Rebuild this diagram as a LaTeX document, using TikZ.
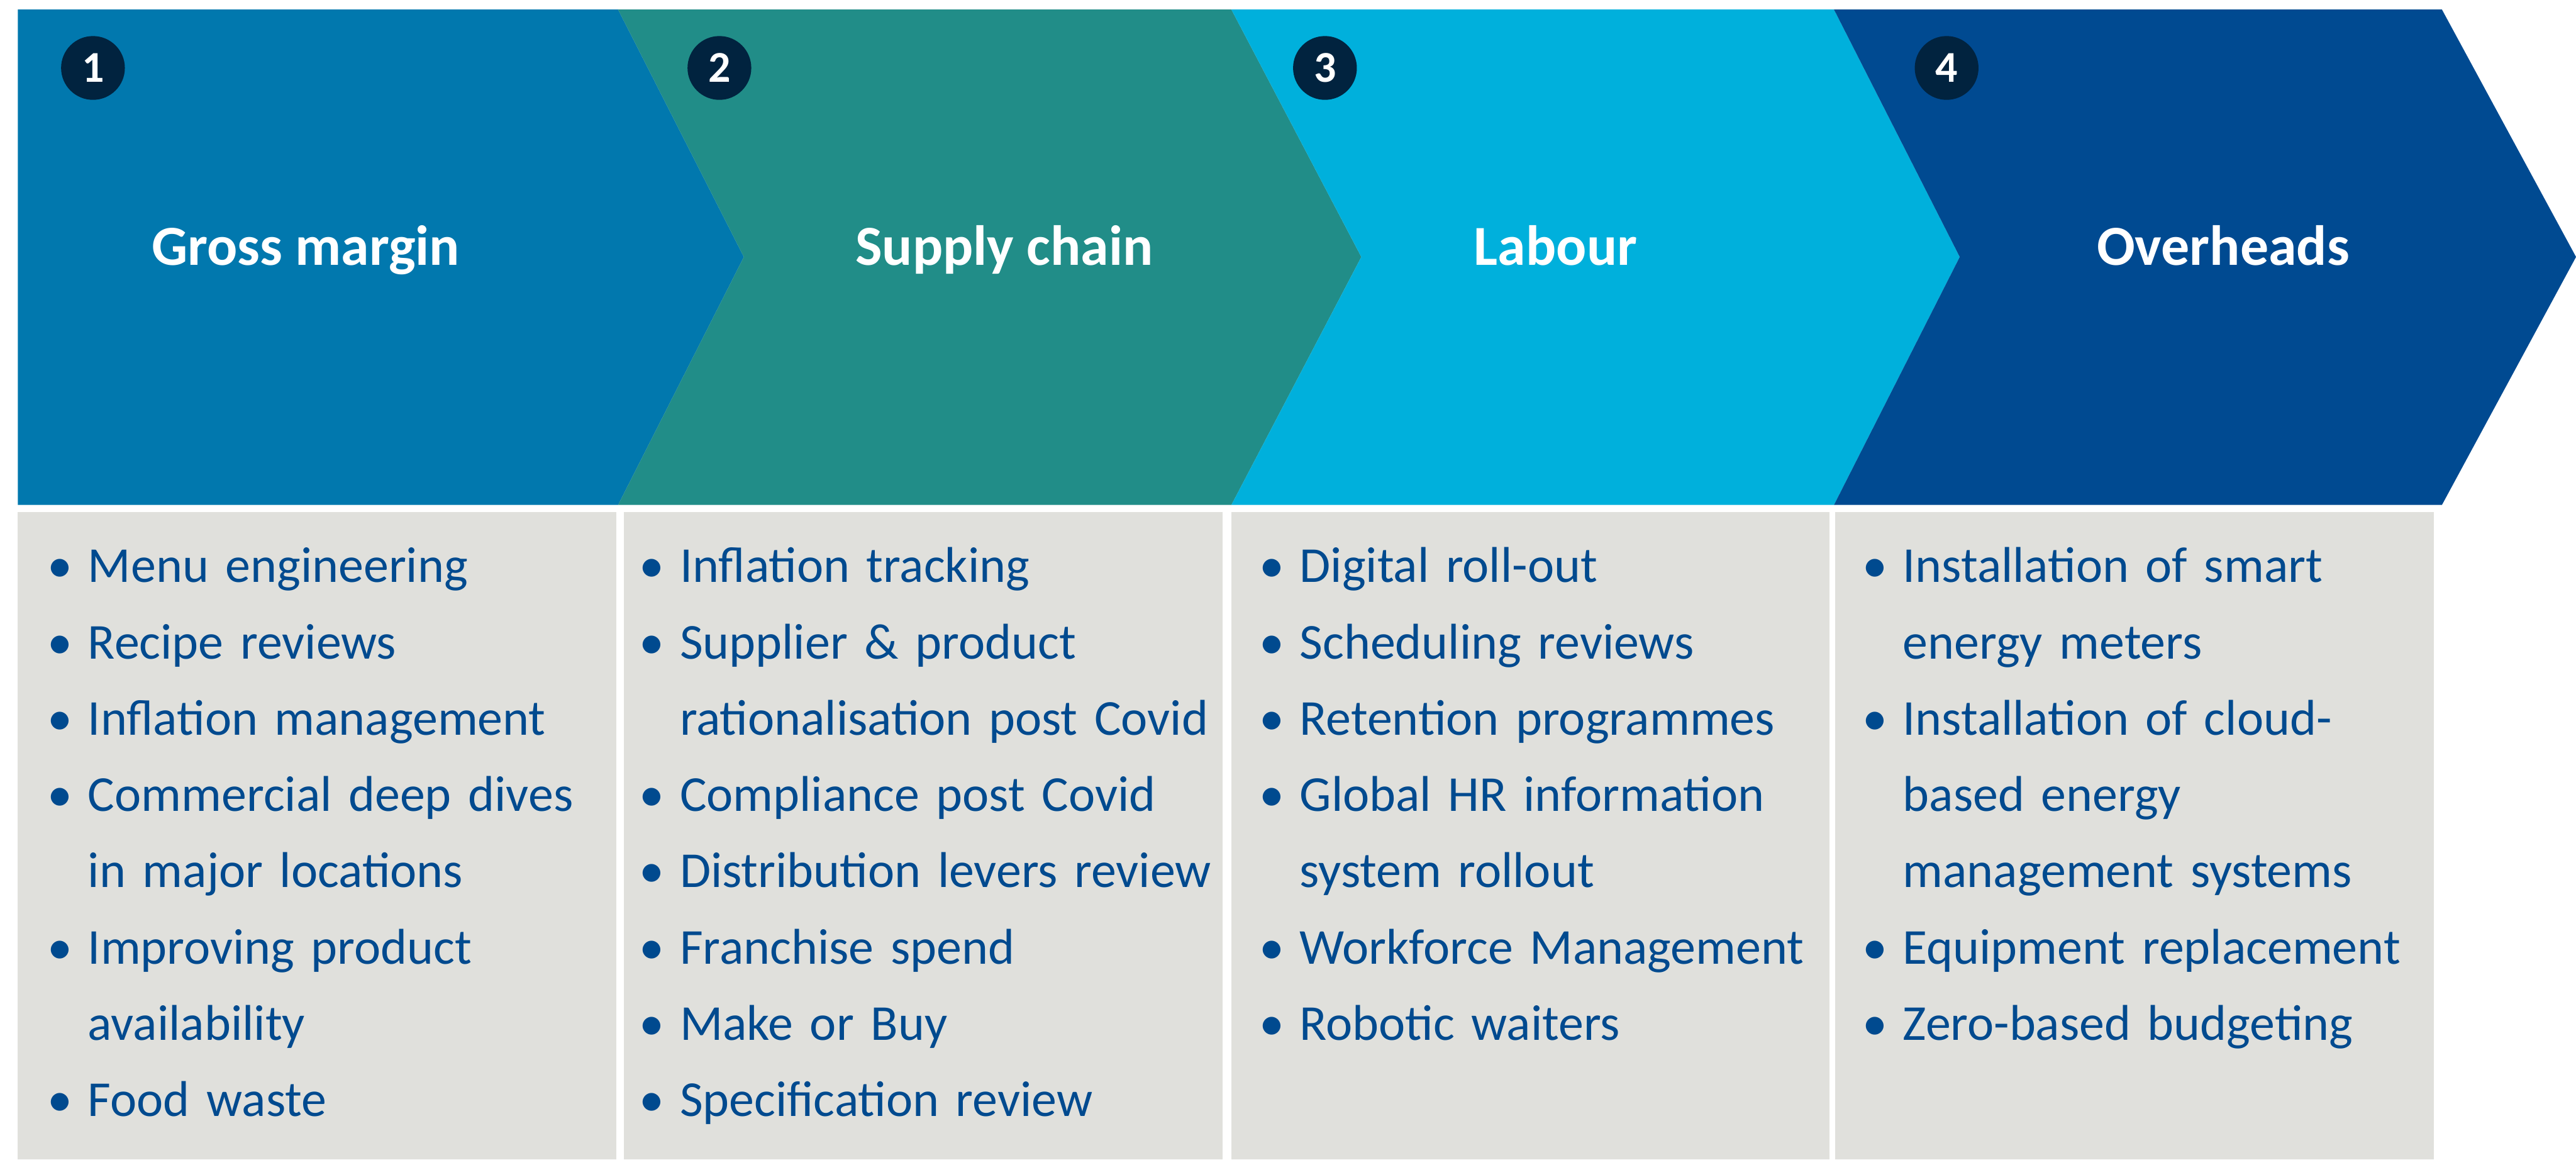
\documentclass[tikz,border=0pt]{standalone}
\usepackage{fontspec}
\setmainfont{Carlito}
\usetikzlibrary{positioning}
\definecolor{margin}{HTML}{0178AE}
\definecolor{supply}{HTML}{218D88}
\definecolor{labour}{HTML}{00B0DC}
\definecolor{overhd}{HTML}{004A91}
\definecolor{badgeink}{HTML}{01233F}
\definecolor{panelgrey}{HTML}{E0E0DC}
\definecolor{listink}{HTML}{004A8F}
\tikzset{
  title/.style={font=\fontsize{27}{32}\selectfont\bfseries, text=white, anchor=base, inner sep=0pt},
  badge/.style={circle, fill=badgeink, text=white, inner sep=0pt, minimum size=1.07cm,
                font=\fontsize{21}{21}\selectfont\bfseries},
  panel/.style={fill=panelgrey},
  items/.style={font=\fontsize{24}{36.4}\selectfont, text=listink, text width=9.8cm,
                align=left, anchor=base west, inner sep=0pt},
}
% bullet centred on the node edge, text after a fixed gap; \cnt indents a wrapped line
\newcommand{\itm}[1]{\makebox[0pt]{\textbullet}\hspace{0.47cm}#1}
\newcommand{\cnt}[1]{\hspace*{0.47cm}#1}

\begin{document}
\begin{tikzpicture}
\useasboundingbox (0,0) rectangle (43.22,19.45);
\fill[white] (0,0) rectangle (43.22,19.45);

% ================= chevron band =================
% left edge / right edge / notch depth / tip depth / colour
\foreach \L/\R/\n/\d/\col in {0.30/10.37/0/2.11/margin, 10.37/20.66/2.11/2.18/supply,
                              20.66/30.77/2.18/2.11/labour, 30.77/40.97/2.11/2.25/overhd}{
  \fill[\col] (\L,19.29) -- (\R,19.29) -- (\R+\d,15.14) -- (\R,10.98)
              -- (\L,10.98) -- (\L+\n,15.14) -- cycle;
}

\node[title] (gross)  at (5.13,15.00)  {Gross margin};
\node[title] (supply) at (16.85,15.00) {Supply chain};
\node[title] (labour) at (26.10,15.00) {Labour};
\node[title] (over)   at (37.30,15.00) {Overheads};

\foreach \x/\k in {1.56/1, 12.07/2, 22.23/3, 32.66/4}
  \node[badge] (badge\k) at (\x,18.31) {\k};

% ================= grey panels =================
\foreach \a/\b in {0.30/10.34, 10.47/20.51, 20.66/30.69, 30.79/40.83}
  \fill[panel] (\a,0) rectangle (\b,10.86);

\node[items] (list1) at (1.00,9.68) {%
  \itm{Menu engineering}\\
  \itm{Recipe reviews}\\
  \itm{Inflation management}\\
  \itm{Commercial deep dives}\\
  \cnt{in major locations}\\
  \itm{Improving product}\\
  \cnt{availability}\\
  \itm{Food waste}};

\node[items] (list2) at (10.93,9.68) {%
  \itm{Inflation tracking}\\
  \itm{Supplier \& product}\\
  \cnt{rationalisation post Covid}\\
  \itm{Compliance post Covid}\\
  \itm{Distribution levers review}\\
  \itm{Franchise spend}\\
  \itm{Make or Buy}\\
  \itm{Specification review}};

\node[items] (list3) at (21.33,9.68) {%
  \itm{Digital roll-out}\\
  \itm{Scheduling reviews}\\
  \itm{Retention programmes}\\
  \itm{Global HR information}\\
  \cnt{system rollout}\\
  \itm{Workforce Management}\\
  \itm{Robotic waiters}};

\node[items] (list4) at (31.45,9.68) {%
  \itm{Installation of smart}\\
  \cnt{energy meters}\\
  \itm{Installation of cloud-}\\
  \cnt{based energy}\\
  \cnt{management systems}\\
  \itm{Equipment replacement}\\
  \itm{Zero-based budgeting}};

\end{tikzpicture}
\end{document}
